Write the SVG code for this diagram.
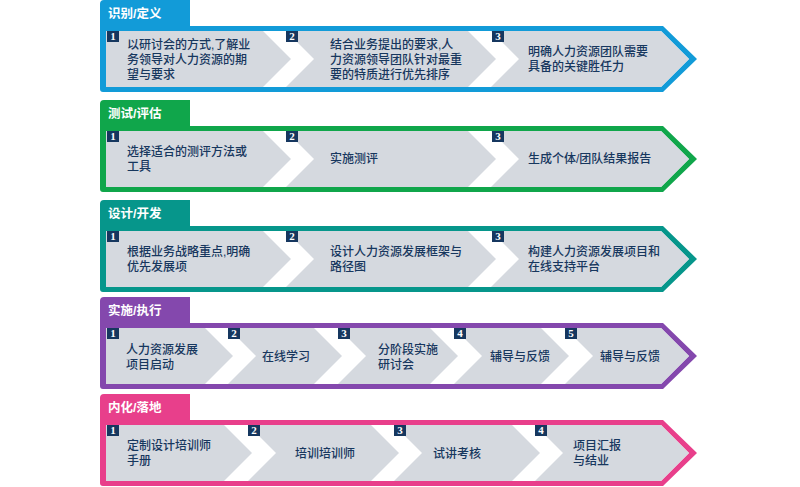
<svg xmlns="http://www.w3.org/2000/svg" width="800" height="487" viewBox="0 0 800 487">
<style>
.inner{fill:#ffffff}
.seg{fill:#d5d9df}
.num{fill:#16375f}
.n{font-family:"Liberation Serif",serif;font-weight:bold;font-size:11px;fill:#ffffff;text-anchor:middle}
.tab{font-family:"Liberation Sans","Noto Sans CJK SC",sans-serif;font-weight:bold;font-size:12.5px;fill:#ffffff}
.t{font-family:"Liberation Sans","Noto Sans CJK SC",sans-serif;font-weight:500;font-size:12px;fill:#17375e}
.blue{fill:#129bd8}
.green{fill:#10a64b}
.teal{fill:#06968b}
.purple{fill:#8448ad}
.pink{fill:#e83f8b}
</style>
<rect width="800" height="487" fill="#ffffff"/>

<g id="row1">
  <path class="blue" d="M100,4 Q100,0 104,0 H190 V26 H663 L697,59 L663,92 H103 Q100,92 100,89 Z"/>
  <path class="inner" d="M106,31 H661 L689,59 L661,87 H106 Z"/>
  <text class="tab" x="108" y="17.5">识别/定义</text>
  <g id="r1s1">
    <path class="seg" d="M106,31 H263 L291,59 L263,87 H106 Z"/>
    <rect class="num" x="107" y="31" width="12" height="11"/><text class="n" x="113" y="40">1</text>
    <text class="t" x="127" y="49">以研讨会的方式,了解业<tspan x="127" dy="15">务领导对人力资源的期</tspan><tspan x="127" dy="15">望与要求</tspan></text>
  </g>
  <g id="r1s2">
    <path class="seg" d="M286,31 H468 L496,59 L468,87 H286 L314,59 Z"/>
    <rect class="num" x="286" y="31" width="12" height="11"/><text class="n" x="292" y="40">2</text>
    <text class="t" x="330" y="49">结合业务提出的要求,人<tspan x="330" dy="15">力资源领导团队针对最重</tspan><tspan x="330" dy="15">要的特质进行优先排序</tspan></text>
  </g>
  <g id="r1s3">
    <path class="seg" d="M491,31 H661 L689,59 L661,87 H491 L519,59 Z"/>
    <rect class="num" x="492" y="31" width="12" height="11"/><text class="n" x="498" y="40">3</text>
    <text class="t" x="528" y="56">明确人力资源团队需要<tspan x="528" dy="15">具备的关键胜任力</tspan></text>
  </g>
</g>

<g id="row2" transform="translate(0,100)">
  <path class="green" d="M100,4 Q100,0 104,0 H190 V26 H663 L697,59 L663,92 H103 Q100,92 100,89 Z"/>
  <path class="inner" d="M106,31 H661 L689,59 L661,87 H106 Z"/>
  <text class="tab" x="108" y="17.5">测试/评估</text>
  <g id="r2s1">
    <path class="seg" d="M106,31 H263 L291,59 L263,87 H106 Z"/>
    <rect class="num" x="107" y="31" width="12" height="11"/><text class="n" x="113" y="40">1</text>
    <text class="t" x="127" y="56">选择适合的测评方法或<tspan x="127" dy="15">工具</tspan></text>
  </g>
  <g id="r2s2">
    <path class="seg" d="M286,31 H468 L496,59 L468,87 H286 L314,59 Z"/>
    <rect class="num" x="286" y="31" width="12" height="11"/><text class="n" x="292" y="40">2</text>
    <text class="t" x="330" y="63">实施测评</text>
  </g>
  <g id="r2s3">
    <path class="seg" d="M491,31 H661 L689,59 L661,87 H491 L519,59 Z"/>
    <rect class="num" x="492" y="31" width="12" height="11"/><text class="n" x="498" y="40">3</text>
    <text class="t" x="528" y="63">生成个体/团队结果报告</text>
  </g>
</g>

<g id="row3" transform="translate(0,200)">
  <path class="teal" d="M100,4 Q100,0 104,0 H190 V26 H663 L697,59 L663,92 H103 Q100,92 100,89 Z"/>
  <path class="inner" d="M106,31 H661 L689,59 L661,87 H106 Z"/>
  <text class="tab" x="108" y="17.5">设计/开发</text>
  <g id="r3s1">
    <path class="seg" d="M106,31 H263 L291,59 L263,87 H106 Z"/>
    <rect class="num" x="107" y="31" width="12" height="11"/><text class="n" x="113" y="40">1</text>
    <text class="t" x="127" y="56">根据业务战略重点,明确<tspan x="127" dy="15">优先发展项</tspan></text>
  </g>
  <g id="r3s2">
    <path class="seg" d="M286,31 H468 L496,59 L468,87 H286 L314,59 Z"/>
    <rect class="num" x="286" y="31" width="12" height="11"/><text class="n" x="292" y="40">2</text>
    <text class="t" x="330" y="56">设计人力资源发展框架与<tspan x="330" dy="15">路径图</tspan></text>
  </g>
  <g id="r3s3">
    <path class="seg" d="M491,31 H661 L689,59 L661,87 H491 L519,59 Z"/>
    <rect class="num" x="492" y="31" width="12" height="11"/><text class="n" x="498" y="40">3</text>
    <text class="t" x="528" y="56">构建人力资源发展项目和<tspan x="528" dy="15">在线支持平台</tspan></text>
  </g>
</g>

<g id="row4" transform="translate(0,297)">
  <path class="purple" d="M100,4 Q100,0 104,0 H190 V26 H663 L697,59 L663,92 H103 Q100,92 100,89 Z"/>
  <path class="inner" d="M106,31 H661 L689,59 L661,87 H106 Z"/>
  <text class="tab" x="108" y="17.5">实施/执行</text>
  <g id="r4s1">
    <path class="seg" d="M106,31 H205 L233,59 L205,87 H106 Z"/>
    <rect class="num" x="107" y="31" width="12" height="11"/><text class="n" x="113" y="40">1</text>
    <text class="t" x="126" y="57">人力资源发展<tspan x="126" dy="15">项目启动</tspan></text>
  </g>
  <g id="r4s2">
    <path class="seg" d="M228,31 H314 L342,59 L314,87 H228 L256,59 Z"/>
    <rect class="num" x="228" y="31" width="12" height="11"/><text class="n" x="234" y="40">2</text>
    <text class="t" x="262" y="64">在线学习</text>
  </g>
  <g id="r4s3">
    <path class="seg" d="M338,31 H430 L458,59 L430,87 H338 L366,59 Z"/>
    <rect class="num" x="338" y="31" width="12" height="11"/><text class="n" x="344" y="40">3</text>
    <text class="t" x="378" y="57">分阶段实施<tspan x="378" dy="15">研讨会</tspan></text>
  </g>
  <g id="r4s4">
    <path class="seg" d="M454,31 H541 L569,59 L541,87 H454 L482,59 Z"/>
    <rect class="num" x="454" y="31" width="12" height="11"/><text class="n" x="460" y="40">4</text>
    <text class="t" x="490" y="64">辅导与反馈</text>
  </g>
  <g id="r4s5">
    <path class="seg" d="M565,31 H661 L689,59 L661,87 H565 L593,59 Z"/>
    <rect class="num" x="565" y="31" width="12" height="11"/><text class="n" x="571" y="40">5</text>
    <text class="t" x="600" y="64">辅导与反馈</text>
  </g>
</g>

<g id="row5" transform="translate(0,394)">
  <path class="pink" d="M100,4 Q100,0 104,0 H190 V26 H663 L697,59 L663,92 H103 Q100,92 100,89 Z"/>
  <path class="inner" d="M106,31 H661 L689,59 L661,87 H106 Z"/>
  <text class="tab" x="108" y="17.5">内化/落地</text>
  <g id="r5s1">
    <path class="seg" d="M106,31 H224 L252,59 L224,87 H106 Z"/>
    <rect class="num" x="107" y="31" width="12" height="11"/><text class="n" x="113" y="40">1</text>
    <text class="t" x="127" y="56">定制设计培训师<tspan x="127" dy="15">手册</tspan></text>
  </g>
  <g id="r5s2">
    <path class="seg" d="M248,31 H371 L399,59 L371,87 H248 L276,59 Z"/>
    <rect class="num" x="248" y="31" width="12" height="11"/><text class="n" x="254" y="40">2</text>
    <text class="t" x="295" y="64">培训培训师</text>
  </g>
  <g id="r5s3">
    <path class="seg" d="M394,31 H512 L540,59 L512,87 H394 L422,59 Z"/>
    <rect class="num" x="394" y="31" width="12" height="11"/><text class="n" x="400" y="40">3</text>
    <text class="t" x="433" y="64">试讲考核</text>
  </g>
  <g id="r5s4">
    <path class="seg" d="M535,31 H661 L689,59 L661,87 H535 L563,59 Z"/>
    <rect class="num" x="535" y="31" width="12" height="11"/><text class="n" x="541" y="40">4</text>
    <text class="t" x="573" y="56">项目汇报<tspan x="573" dy="15">与结业</tspan></text>
  </g>
</g>
</svg>
